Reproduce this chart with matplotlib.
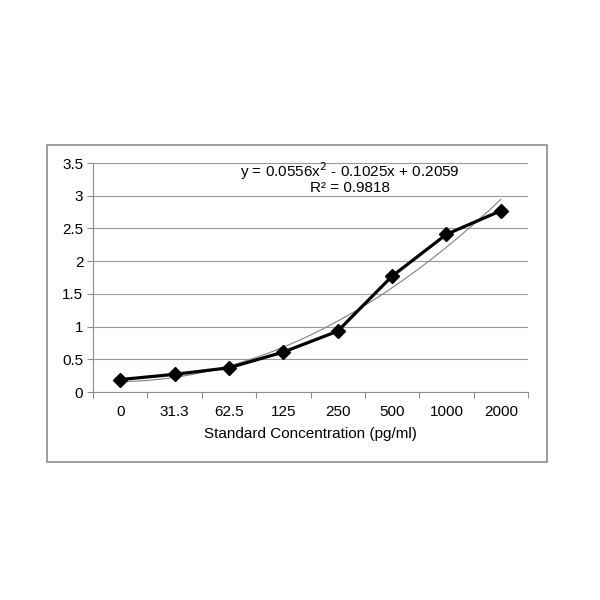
import matplotlib
matplotlib.use("Agg")
import matplotlib.pyplot as plt
import numpy as np
from matplotlib.patches import Rectangle

plt.rcParams['font.family'] = ['Liberation Sans', 'DejaVu Sans']

categories = ["0", "31.3", "62.5", "125", "250", "500", "1000", "2000"]
od_values = [0.19, 0.27, 0.37, 0.61, 0.93, 1.77, 2.41, 2.77]
trend_coef = [0.0556, -0.1025, 0.2059]  # y = a x^2 + b x + c, x = 1..n
yticks = [0, 0.5, 1, 1.5, 2, 2.5, 3, 3.5]
ytick_labels = ["0", "0.5", "1", "1.5", "2", "2.5", "3", "3.5"]
x_label = "Standard Concentration (pg/ml)"
eq_text = "y = 0.0556x$^2$ - 0.1025x + 0.2059\nR² = 0.9818"

fig = plt.figure(figsize=(6, 6), dpi=100)
fig.patch.set_facecolor("white")

# outer chart frame
fig.patches.append(Rectangle((47/600, 138/600), 500/600, 317/600,
                             transform=fig.transFigure, fill=False,
                             edgecolor="#8c8c8c", linewidth=1.2))

ax = fig.add_axes([93/600, 208/600, 435/600, 229/600])
n = len(categories)
x = np.arange(n)

# trendline from displayed equation
xs = np.linspace(1, n, 200)
a, b, c = trend_coef
ax.plot(xs - 1, a * xs**2 + b * xs + c, color="#808080", linewidth=0.8, zorder=2)

ax.plot(x, od_values, color="black", linewidth=2.3, marker="D",
        markersize=7, markerfacecolor="black", markeredgecolor="black", zorder=3)

ax.set_xlim(-0.5, n - 0.5)
ax.set_ylim(0, 3.5)
ax.set_yticks(yticks)
ax.set_yticklabels(ytick_labels)
ax.set_xticks(x)
ax.set_xticklabels(categories)
ax.set_xticks(np.arange(n + 1) - 0.5, minor=True)
ax.tick_params(axis="x", which="major", length=0, pad=9, labelsize=11, colors="black")
ax.tick_params(axis="x", which="minor", length=4, color="#8c8c8c", width=0.8)
ax.tick_params(axis="y", length=4, color="#8c8c8c", width=0.8, labelsize=11, pad=3)
ax.grid(axis="y", color="#999999", linewidth=0.8)
ax.set_axisbelow(True)
for s in ["top", "right"]:
    ax.spines[s].set_visible(False)
for s in ["left", "bottom"]:
    ax.spines[s].set_color("#8c8c8c")
    ax.spines[s].set_linewidth(0.8)

ax.set_xlabel(x_label, fontsize=11, labelpad=6)

ax.text(0.59, 0.935, eq_text, transform=ax.transAxes, ha="center", va="center",
        fontsize=11, linespacing=0.95)

fig.savefig("out.png", dpi=100)
